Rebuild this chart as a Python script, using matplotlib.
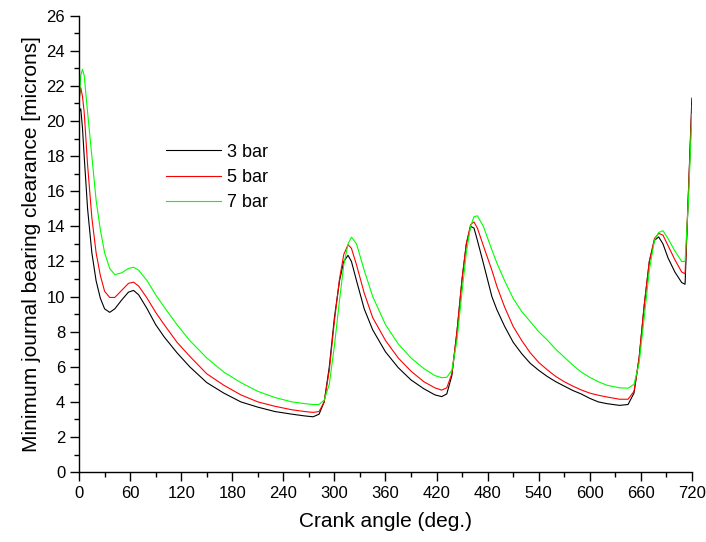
import matplotlib
matplotlib.use("Agg")
import matplotlib.pyplot as plt
from matplotlib.ticker import MultipleLocator

plt.rcParams["font.family"] = ["Liberation Sans", "DejaVu Sans"]

# crank angle (deg) sample points
angle = [0, 2, 4, 6, 10, 15, 20, 25, 30, 36, 42, 50, 58, 64, 70, 80, 90, 100, 115,
         130, 150, 170, 190, 210, 230, 250, 265, 275, 282, 288, 294, 300, 306,
         311, 316, 320, 326, 335, 345, 360, 375, 390, 405, 418, 426, 432, 438,
         444, 450, 455, 460, 464, 468, 475, 485, 491, 500, 510, 520, 530, 540,
         550, 560, 570, 580, 590, 600, 610, 620, 635, 645, 652, 658, 664, 670,
         676, 681, 686, 692, 700, 708, 712, 716, 720]

bar3 = [20.5, 20.7, 19.6, 18.0, 15.0, 12.5, 10.9, 9.9, 9.3, 9.1, 9.3, 9.8, 10.25,
        10.35, 10.1, 9.3, 8.4, 7.7, 6.8, 6.0, 5.1, 4.5, 4.0, 3.7, 3.45, 3.3,
        3.2, 3.15, 3.3, 4.0, 6.0, 8.8, 10.9, 12.0, 12.35, 12.0, 10.9, 9.3, 8.1,
        6.85, 5.95, 5.25, 4.75, 4.4, 4.3, 4.45, 5.5, 8.0, 11.0, 13.0, 14.0, 13.9,
        13.2, 11.9, 10.0, 9.24, 8.3, 7.4, 6.75, 6.2, 5.8, 5.45, 5.15, 4.9, 4.65,
        4.45, 4.2, 4.0, 3.9, 3.8, 3.85, 4.5, 6.5, 9.5, 12.0, 13.2, 13.4, 13.0,
        12.2, 11.4, 10.8, 10.7, 16.0, 21.3]

bar5 = [21.2, 21.9, 21.4, 20.5, 17.5, 14.5, 12.5, 11.2, 10.3, 9.95, 9.95, 10.35,
        10.75, 10.82, 10.6, 9.9, 9.1, 8.4, 7.4, 6.6, 5.6, 4.95, 4.4, 4.0, 3.75,
        3.55, 3.45, 3.4, 3.45, 4.0, 5.8, 8.6, 11.0, 12.4, 12.95, 12.75, 11.8,
        10.2, 8.8, 7.5, 6.5, 5.75, 5.15, 4.8, 4.67, 4.8, 5.6, 8.0, 11.0, 13.0,
        14.1, 14.25, 13.9, 12.9, 11.5, 10.57, 9.4, 8.3, 7.5, 6.8, 6.25, 5.83,
        5.45, 5.15, 4.9, 4.68, 4.5, 4.38, 4.28, 4.15, 4.15, 4.6, 6.5, 9.5, 12.0,
        13.3, 13.6, 13.5, 12.9, 12.1, 11.4, 11.3, 16.0, 20.9]

bar7 = [21.0, 22.6, 22.95, 22.6, 20.5, 18.0, 15.5, 13.8, 12.5, 11.6, 11.25, 11.35,
        11.6, 11.67, 11.5, 10.9, 10.1, 9.4, 8.4, 7.5, 6.5, 5.7, 5.1, 4.6, 4.25,
        4.0, 3.9, 3.85, 3.85, 4.1, 5.0, 7.2, 9.8, 11.8, 13.0, 13.38, 13.0,
        11.5, 10.0, 8.4, 7.3, 6.5, 5.9, 5.5, 5.38, 5.4, 5.8, 7.5, 10.3, 12.5,
        14.0, 14.55, 14.6, 14.0, 12.66, 11.9, 10.9, 9.9, 9.15, 8.58, 8.0, 7.53,
        7.0, 6.55, 6.1, 5.7, 5.4, 5.15, 4.95, 4.8, 4.78, 5.0, 6.2, 8.8, 11.5,
        13.2, 13.65, 13.75, 13.3, 12.6, 12.0, 12.0, 15.5, 20.4]

labels = ["3 bar", "5 bar", "7 bar"]
colors = ["black", "red", "#00ff00"]

fig = plt.figure(figsize=(7.06, 5.42), dpi=100)
ax = fig.add_axes([0.112, 0.129, 0.868, 0.842])

for vals, lab, col in zip([bar3, bar5, bar7], labels, colors):
    ax.plot(angle, vals, color=col, lw=0.8, label=lab)

ax.set_xlim(0, 720)
ax.set_ylim(0, 26)
ax.xaxis.set_major_locator(MultipleLocator(60))
ax.xaxis.set_minor_locator(MultipleLocator(30))
ax.yaxis.set_major_locator(MultipleLocator(2))
ax.yaxis.set_minor_locator(MultipleLocator(1))
ax.tick_params(which="major", direction="out", length=6.5, width=1, labelsize=12)
ax.tick_params(which="minor", direction="out", length=3.5, width=1)
for s in ["top", "right"]:
    ax.spines[s].set_visible(False)
for s in ["left", "bottom"]:
    ax.spines[s].set_linewidth(1)

ax.set_xlabel("Crank angle (deg.)", fontsize=15, labelpad=8)
ax.set_ylabel("Minimum journal bearing clearance [microns]", fontsize=15, labelpad=4)

ax.legend(loc="upper left", bbox_to_anchor=(0.115, 0.755), frameon=False,
          fontsize=13, handlelength=3.05, handletextpad=0.35, labelspacing=0.45)

fig.savefig("out.png", dpi=100)
